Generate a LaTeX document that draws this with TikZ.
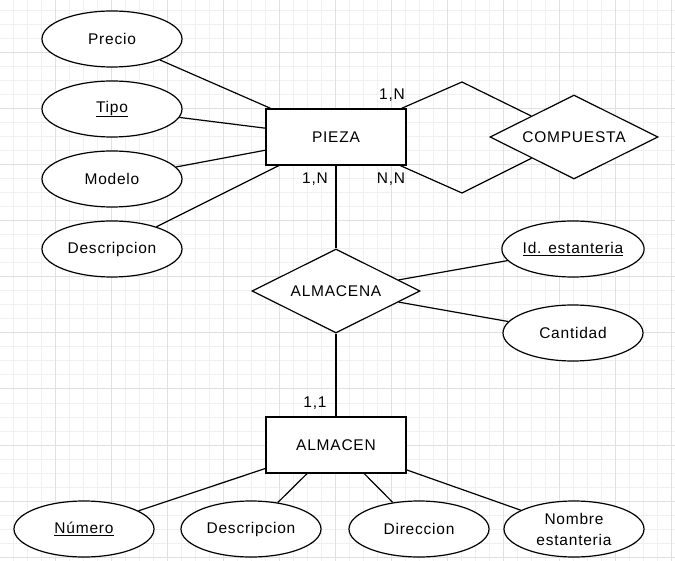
\documentclass[tikz,border=0pt]{standalone}
\usepackage{fontspec}
\setmainfont[LetterSpace=5]{Liberation Sans}
\usetikzlibrary{shapes.geometric}
\tikzset{
  entity/.style={draw, line width=1.2pt, fill=white, minimum width=140pt, minimum height=56pt, inner sep=0pt},
  attr/.style={draw, line width=1.2pt, fill=white, ellipse, minimum width=140pt, minimum height=56pt, inner sep=0pt},
  rel/.style={draw, line width=1.2pt, fill=white, diamond, aspect=2, minimum width=168pt, minimum height=84pt, inner sep=0pt},
  card/.style={inner sep=0pt},
  link/.style={line width=1.2pt},
  minorgrid/.style={draw=black!6, line width=1pt},
  majorgrid/.style={draw=black!12, line width=1pt}
}

\begin{document}
\begin{tikzpicture}[x=1pt,y=-1pt,font=\fontsize{15.5}{21}\selectfont]
\useasboundingbox[fill=white] (0,0) rectangle (675,561);
\foreach \gx in {13,27,...,671} \draw[minorgrid] (\gx,0) -- (\gx,561);
\foreach \gy in {11,25,...,557} \draw[minorgrid] (0,\gy) -- (675,\gy);
\foreach \gx in {55,111,...,671} \draw[majorgrid] (\gx,0) -- (\gx,561);
\foreach \gy in {53,109,...,557} \draw[majorgrid] (0,\gy) -- (675,\gy);

\node[attr] (precio) at (112,39) {Precio};
\node[attr] (tipo) at (112,109) {\underline{Tipo}};
\node[attr] (modelo) at (112,179) {Modelo};
\node[attr] (descPieza) at (112,249) {Descripcion};
\node[entity] (pieza) at (336,137) {PIEZA};
\node[rel] (compuesta) at (574,137) {COMPUESTA};
\coordinate (bendTop) at (462,82);
\coordinate (bendBot) at (462,193);
\node[rel] (almacena) at (336,291) {ALMACENA};
\node[attr] (idEst) at (573,249) {\underline{Id. estanteria}};
\node[attr] (cantidad) at (573,333) {Cantidad};
\node[entity] (almacen) at (336,445) {ALMACEN};
\node[attr] (numero) at (84,529) {\underline{Número}};
\node[attr] (descAlm) at (251,529) {Descripcion};
\node[attr] (direccion) at (419,529) {Direccion};
\node[attr, align=center] (nombreEst) at (574,529) {Nombre\\estanteria};

\draw[link] (precio) -- (pieza);
\draw[link] (tipo) -- (pieza);
\draw[link] (modelo) -- (pieza);
\draw[link] (descPieza) -- (pieza);
\draw[link] (pieza) -- (bendTop) -- (compuesta);
\draw[link] (pieza) -- (bendBot) -- (compuesta);
\draw[link] (pieza) -- (almacena);
\draw[link] (almacena) -- (idEst);
\draw[link] (almacena) -- (cantidad);
\draw[link] (almacena) -- (almacen);
\draw[link] (almacen) -- (numero);
\draw[link] (almacen) -- (descAlm);
\draw[link] (almacen) -- (direccion);
\draw[link] (almacen) -- (nombreEst);

\node[card] (cardTop) at (392,95) {1,N};
\node[card] (cardBot) at (391,179) {N,N};
\node[card] (cardPieza) at (315,179) {1,N};
\node[card] (cardAlm) at (315,403) {1,1};
\end{tikzpicture}
\end{document}
